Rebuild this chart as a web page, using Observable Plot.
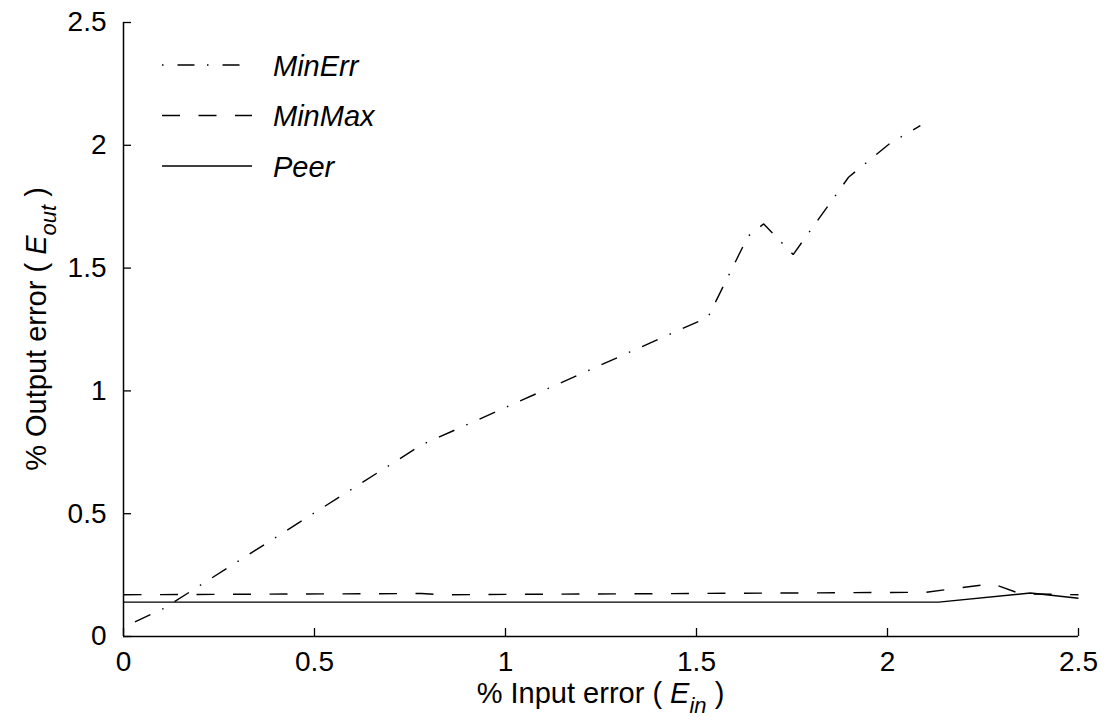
<!DOCTYPE html>
<html><head><meta charset="utf-8">
<script src="https://cdn.jsdelivr.net/npm/d3@7"></script>
<script src="https://cdn.jsdelivr.net/npm/@observablehq/plot@0.6"></script>
<style>body{margin:0;background:#fff} #chart{position:relative;width:1108px;height:723px}</style>
</head><body><div id="chart"></div>
<script>
// ---- data ----
const xTicks = [0, 0.5, 1, 1.5, 2, 2.5];
const yTicks = [0, 0.5, 1, 1.5, 2, 2.5];
const seriesNames = ["MinErr", "MinMax", "Peer"];
const minErrX = [0.03, 0.105, 0.78, 1.53, 1.635, 1.676, 1.753, 1.898, 2.008, 2.086];
const minErrY = [0.06, 0.114, 0.78, 1.30, 1.63, 1.68, 1.555, 1.87, 2.01, 2.08];
const minMaxX = [0, 0.78, 0.83, 2.10, 2.274, 2.348, 2.5];
const minMaxY = [0.17, 0.175, 0.17, 0.18, 0.215, 0.174, 0.17];
const peerX = [0, 2.134, 2.374, 2.5];
const peerY = [0.14, 0.14, 0.177, 0.156];

// ---- layout / style ----
const W = 1108, H = 723, mL = 123, mR = 30, mT = 22, mB = 87;
const plotW = W - mL - mR, plotH = H - mT - mB;
const FONT = '"Liberation Sans", Arial, Helvetica, sans-serif';
const dashes = {MinErr: "17,13,1.5,13", MinMax: "18,18.5", Peer: null};
const SW = 1.4;

const rows = (xs, ys, name) => xs.map((x, i) => ({x, y: ys[i], series: name}));
const data = {
  MinErr: rows(minErrX, minErrY, "MinErr"),
  MinMax: rows(minMaxX, minMaxY, "MinMax"),
  Peer: rows(peerX, peerY, "Peer")
};

const lineMark = name => Plot.line(data[name], {
  x: "x", y: "y", stroke: "#000", strokeWidth: SW,
  strokeDasharray: dashes[name], strokeLinecap: "butt", strokeLinejoin: "miter"
});

const plot = Plot.plot({
  width: W, height: H,
  marginLeft: mL, marginRight: mR, marginTop: mT, marginBottom: mB,
  x: {domain: [xTicks[0], xTicks[xTicks.length - 1]]},
  y: {domain: [yTicks[0], yTicks[yTicks.length - 1]]},
  style: {fontFamily: FONT, fontSize: "28px", background: "#fff", color: "#000", overflow: "visible"},
  marks: [
    Plot.axisX(xTicks, {tickSize: 0, tickPadding: 15, label: null, tickFormat: d => String(d), fill: "#000", fontSize: 28}),
    Plot.axisY(yTicks, {tickSize: 0, tickPadding: 17, label: null, tickFormat: d => String(d), fill: "#000", fontSize: 28}),
    // inward ticks
    Plot.ruleX(xTicks, {insetTop: plotH - 8, stroke: "#000", strokeWidth: 1.3}),
    Plot.ruleY(yTicks, {insetRight: plotW - 8, stroke: "#000", strokeWidth: 1.3}),
    // axis lines
    Plot.ruleY([yTicks[0]], {stroke: "#000", strokeWidth: 1.5}),
    Plot.ruleX([xTicks[0]], {stroke: "#000", strokeWidth: 1.5}),
    ...seriesNames.map(lineMark)
  ]
});
document.getElementById("chart").appendChild(plot);

// ---- axis labels & legend (text) ----
const svg = d3.select(plot);
const xl = svg.append("text")
  .attr("x", mL + plotW / 2).attr("y", 703)
  .attr("text-anchor", "middle")
  .style("font-family", FONT).style("font-size", "29px").attr("fill", "#000");
xl.append("tspan").text("% Input error ( ");
xl.append("tspan").attr("font-style", "italic").text("E");
xl.append("tspan").attr("font-style", "italic").attr("font-size", "22px").attr("dy", "10").text("in");
xl.append("tspan").attr("dy", "-10").text(" )");

const yl = svg.append("text")
  .attr("transform", `translate(46,${mT + plotH / 2}) rotate(-90)`)
  .attr("text-anchor", "middle")
  .style("font-family", FONT).style("font-size", "29px").attr("fill", "#000");
yl.append("tspan").text("% Output error ( ");
yl.append("tspan").attr("font-style", "italic").text("E");
yl.append("tspan").attr("font-style", "italic").attr("font-size", "22px").attr("dy", "10").text("out");
yl.append("tspan").attr("dy", "-10").text(" )");

const lg = svg.append("g");
seriesNames.forEach((name, i) => {
  const y = 65 + i * 50.5;
  lg.append("line").attr("x1", 162).attr("x2", 252).attr("y1", y).attr("y2", y)
    .attr("stroke", "#000").attr("stroke-width", SW)
    .attr("stroke-dasharray", name === "MinErr" ? "1.5,14,17,12.5" : dashes[name]);
  lg.append("text").attr("x", 273).attr("y", y + 10.5)
    .attr("text-anchor", "start")
    .style("font-family", FONT).style("font-size", "29px").attr("font-style", "italic")
    .attr("fill", "#000").text(name);
});
</script>
</body></html>
